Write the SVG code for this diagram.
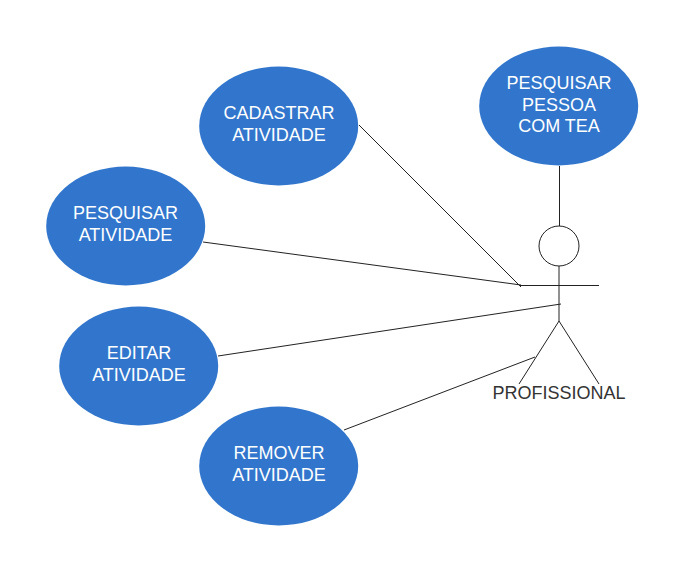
<svg xmlns="http://www.w3.org/2000/svg" width="683" height="580" viewBox="0 0 683 580">
<style>
.uc{fill:#3176cc}
.l{fill:none;stroke:#222;stroke-width:1}
text{font-family:"Liberation Sans",Arial,sans-serif;font-size:18px;text-anchor:middle}
.w{fill:#fff}
.k{fill:#333}
</style>
<rect width="683" height="580" fill="#fff"/>
<g id="connectors">
<path class="l" d="M359 125L521 287"/>
<path class="l" d="M203 242L521 285"/>
<path class="l" d="M218 356L561 304"/>
<path class="l" d="M344 430L535 357"/>
<path class="l" d="M559.500 226V166"/>
</g>
<g id="cadastrar"><ellipse class="uc" cx="278.700" cy="126" rx="79.500" ry="59.500"/><text class="w" x="279" y="119">CADASTRAR</text><text class="w" x="279" y="141">ATIVIDADE</text></g>
<g id="pesquisar-pessoa"><ellipse class="uc" cx="558.700" cy="106" rx="79.500" ry="59.500"/><text class="w" x="559" y="88.500">PESQUISAR</text><text class="w" x="559" y="110.500">PESSOA</text><text class="w" x="559" y="132">COM TEA</text></g>
<g id="pesquisar-atividade"><ellipse class="uc" cx="125.700" cy="226" rx="79.500" ry="59.500"/><text class="w" x="125.500" y="219">PESQUISAR</text><text class="w" x="125.500" y="241">ATIVIDADE</text></g>
<g id="editar"><ellipse class="uc" cx="138.700" cy="366" rx="79.500" ry="59.500"/><text class="w" x="139" y="359">EDITAR</text><text class="w" x="139" y="381">ATIVIDADE</text></g>
<g id="remover"><ellipse class="uc" cx="278.700" cy="466" rx="79.500" ry="59.500"/><text class="w" x="279" y="459">REMOVER</text><text class="w" x="279" y="481">ATIVIDADE</text></g>
<g id="profissional">
<circle cx="559" cy="246" r="20" fill="#fff" stroke="#222"/>
<path class="l" d="M559 266V321M519 285.500H599M559 321L519 384M559 321L599 384"/>
<text class="k" x="559" y="398.500">PROFISSIONAL</text>
</g>
</svg>
